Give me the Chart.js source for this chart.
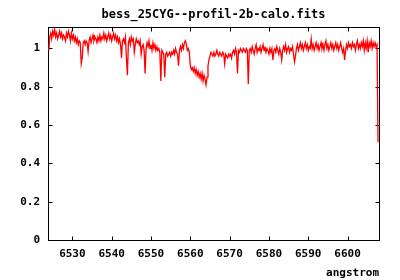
<!DOCTYPE html>
<html>
<head>
<meta charset="utf-8">
<script src="https://cdn.jsdelivr.net/npm/chart.js@4/dist/chart.umd.min.js"></script>
<style>
    body { margin: 0; background: #fff; }
    #wrap { width: 400px; height: 280px; }
</style>
</head>
<body>
<div id="wrap"><canvas id="spectrum" width="400" height="280"></canvas></div>
<script>
// wavelength grid (angstrom), 0.25 A per sample
const wavelengths = [
    6524.00, 6524.25, 6524.50, 6524.75, 6525.00, 6525.25, 6525.50, 6525.75,
    6526.00, 6526.25, 6526.50, 6526.75, 6527.00, 6527.25, 6527.50, 6527.75,
    6528.00, 6528.25, 6528.50, 6528.75, 6529.00, 6529.25, 6529.50, 6529.75,
    6530.00, 6530.25, 6530.50, 6530.75, 6531.00, 6531.25, 6531.50, 6531.75,
    6532.00, 6532.25, 6532.50, 6532.75, 6533.00, 6533.25, 6533.50, 6533.75,
    6534.00, 6534.25, 6534.50, 6534.75, 6535.00, 6535.25, 6535.50, 6535.75,
    6536.00, 6536.25, 6536.50, 6536.75, 6537.00, 6537.25, 6537.50, 6537.75,
    6538.00, 6538.25, 6538.50, 6538.75, 6539.00, 6539.25, 6539.50, 6539.75,
    6540.00, 6540.25, 6540.50, 6540.75, 6541.00, 6541.25, 6541.50, 6541.75,
    6542.00, 6542.25, 6542.50, 6542.75, 6543.00, 6543.25, 6543.50, 6543.75,
    6544.00, 6544.25, 6544.50, 6544.75, 6545.00, 6545.25, 6545.50, 6545.75,
    6546.00, 6546.25, 6546.50, 6546.75, 6547.00, 6547.25, 6547.50, 6547.75,
    6548.00, 6548.25, 6548.50, 6548.75, 6549.00, 6549.25, 6549.50, 6549.75,
    6550.00, 6550.25, 6550.50, 6550.75, 6551.00, 6551.25, 6551.50, 6551.75,
    6552.00, 6552.25, 6552.50, 6552.75, 6553.00, 6553.25, 6553.50, 6553.75,
    6554.00, 6554.25, 6554.50, 6554.75, 6555.00, 6555.25, 6555.50, 6555.75,
    6556.00, 6556.25, 6556.50, 6556.75, 6557.00, 6557.25, 6557.50, 6557.75,
    6558.00, 6558.25, 6558.50, 6558.75, 6559.00, 6559.25, 6559.50, 6559.75,
    6560.00, 6560.25, 6560.50, 6560.75, 6561.00, 6561.25, 6561.50, 6561.75,
    6562.00, 6562.25, 6562.50, 6562.75, 6563.00, 6563.25, 6563.50, 6563.75,
    6564.00, 6564.25, 6564.50, 6564.75, 6565.00, 6565.25, 6565.50, 6565.75,
    6566.00, 6566.25, 6566.50, 6566.75, 6567.00, 6567.25, 6567.50, 6567.75,
    6568.00, 6568.25, 6568.50, 6568.75, 6569.00, 6569.25, 6569.50, 6569.75,
    6570.00, 6570.25, 6570.50, 6570.75, 6571.00, 6571.25, 6571.50, 6571.75,
    6572.00, 6572.25, 6572.50, 6572.75, 6573.00, 6573.25, 6573.50, 6573.75,
    6574.00, 6574.25, 6574.50, 6574.75, 6575.00, 6575.25, 6575.50, 6575.75,
    6576.00, 6576.25, 6576.50, 6576.75, 6577.00, 6577.25, 6577.50, 6577.75,
    6578.00, 6578.25, 6578.50, 6578.75, 6579.00, 6579.25, 6579.50, 6579.75,
    6580.00, 6580.25, 6580.50, 6580.75, 6581.00, 6581.25, 6581.50, 6581.75,
    6582.00, 6582.25, 6582.50, 6582.75, 6583.00, 6583.25, 6583.50, 6583.75,
    6584.00, 6584.25, 6584.50, 6584.75, 6585.00, 6585.25, 6585.50, 6585.75,
    6586.00, 6586.25, 6586.50, 6586.75, 6587.00, 6587.25, 6587.50, 6587.75,
    6588.00, 6588.25, 6588.50, 6588.75, 6589.00, 6589.25, 6589.50, 6589.75,
    6590.00, 6590.25, 6590.50, 6590.75, 6591.00, 6591.25, 6591.50, 6591.75,
    6592.00, 6592.25, 6592.50, 6592.75, 6593.00, 6593.25, 6593.50, 6593.75,
    6594.00, 6594.25, 6594.50, 6594.75, 6595.00, 6595.25, 6595.50, 6595.75,
    6596.00, 6596.25, 6596.50, 6596.75, 6597.00, 6597.25, 6597.50, 6597.75,
    6598.00, 6598.25, 6598.50, 6598.75, 6599.00, 6599.25, 6599.50, 6599.75,
    6600.00, 6600.25, 6600.50, 6600.75, 6601.00, 6601.25, 6601.50, 6601.75,
    6602.00, 6602.25, 6602.50, 6602.75, 6603.00, 6603.25, 6603.50, 6603.75,
    6604.00, 6604.25, 6604.50, 6604.75, 6605.00, 6605.25, 6605.50, 6605.75,
    6606.00, 6606.25, 6606.50, 6606.75, 6607.00, 6607.25, 6607.50, 6607.75
];
// normalised flux, one row per angstrom
const flux = [
    0.99, 1.06, 1.08, 1.05,   1.09, 1.07, 1.10, 1.06,
    1.08, 1.05, 1.07, 1.09,   1.06, 1.08, 1.05, 1.07,
    1.06, 1.04, 1.08, 1.06,   1.09, 1.07, 1.04, 1.08,
    1.05, 1.07, 1.04, 1.06,   1.03, 1.05, 1.02, 1.04,
    1.03, 0.92, 0.95, 1.03,   1.04, 1.02, 1.04, 1.03,
    0.985, 1.04, 1.06, 1.03,  1.05, 1.07, 1.04, 1.06,
    1.05, 1.03, 1.06, 1.04,   1.07, 1.04, 1.06, 1.05,
    1.08, 1.05, 1.07, 1.04,   1.06, 1.08, 1.05, 1.07,
    1.04, 1.06, 1.08, 1.05,   1.07, 1.04, 1.06, 1.03,
    1.05, 1.02, 0.95, 1.04,   1.05, 1.03, 1.06, 0.95,
    0.86, 1.03, 1.05, 1.02,   1.06, 1.04, 1.05, 0.98,
    1.02, 1.05, 1.03, 1.04,   1.02, 1.04, 0.97, 1.01,
    1.02, 0.99, 0.87, 1.00,   1.03, 1.01, 1.04, 1.00,
    1.02, 0.99, 1.03, 1.00,   1.02, 0.99, 1.01, 0.99,
    1.00, 0.98, 0.83, 0.99,   0.98, 0.97, 0.85, 0.97,
    0.98, 0.96, 0.97, 0.98,   0.96, 0.98, 0.97, 0.99,
    0.97, 1.00, 0.98, 0.97,   0.91, 0.99, 1.01, 0.99,
    1.02, 1.00, 1.03, 1.04,   1.02, 0.99, 1.00, 0.98,
    0.91, 0.89, 0.90, 0.88,   0.90, 0.87, 0.89, 0.86,
    0.88, 0.85, 0.87, 0.84,   0.87, 0.83, 0.86, 0.84,
    0.81, 0.85, 0.91, 0.94,   0.96, 0.98, 0.97, 0.96,
    0.98, 0.96, 0.97, 0.99,   0.97, 0.96, 0.98, 0.97,
    0.96, 0.98, 0.97, 0.92,   0.97, 0.96, 0.95, 0.97,
    0.96, 0.97, 0.95, 0.98,   0.99, 0.97, 1.00, 0.98,
    0.87, 0.99, 0.98, 1.00,   0.99, 0.98, 1.00, 0.99,
    0.98, 1.00, 0.99, 0.815,  0.99, 1.00, 0.98, 1.01,
    0.99, 0.97, 1.00, 1.02,   0.98, 1.00, 0.99, 1.01,
    0.98, 1.00, 1.02, 0.99,   1.01, 0.98, 1.00, 0.99,
    0.97, 1.00, 0.98, 1.00,   0.94, 0.99, 1.00, 0.98,
    1.01, 0.99, 0.97, 1.00,   0.98, 0.94, 0.99, 1.01,
    0.99, 1.02, 0.98, 1.00,   1.01, 0.98, 1.00, 0.99,
    1.01, 0.97, 0.93, 0.96,   1.00, 1.02, 0.99, 1.01,
    1.03, 1.00, 1.02, 0.99,   1.01, 1.03, 1.00, 1.02,
    0.99, 1.01, 1.00, 1.05,   1.00, 1.02, 0.99, 1.01,
    1.03, 1.00, 1.02, 0.99,   1.01, 1.03, 1.00, 1.02,
    0.99, 1.02, 1.04, 1.00,   1.02, 0.99, 1.01, 1.03,
    1.00, 1.02, 0.99, 1.01,   1.03, 1.00, 1.02, 0.99,
    1.01, 1.03, 1.00, 0.98,   1.00, 0.94, 0.99, 1.02,
    1.00, 1.03, 1.01, 1.02,   1.00, 1.03, 1.01, 1.02,
    0.99, 1.02, 1.04, 1.00,   1.02, 1.00, 1.03, 1.01,
    1.04, 0.99, 1.03, 1.00,   1.04, 0.98, 1.03, 1.01,
    1.04, 1.00, 1.03, 1.01,   1.03, 1.01, 1.02, 0.51
];
const xTicks = [6530, 6540, 6550, 6560, 6570, 6580, 6590, 6600];
const yTicks = [0, 0.2, 0.4, 0.6, 0.8, 1];

const font = { family: "'DejaVu Sans Mono', monospace", size: 11, weight: "bold" };

// gnuplot style box with inward ticks on all four sides
const framePlugin = {
    id: "frame",
    afterLayout(chart) {
        // centre the title over the plot box, not the whole canvas
        if (chart.titleBlock) {
            chart.titleBlock.left = chart.chartArea.left;
            chart.titleBlock.right = chart.chartArea.right;
        }
    },
    beforeDatasetsDraw(chart) {
        const { ctx, chartArea: a, scales } = chart;
        const L = Math.round(a.left) + 0.5, R = Math.round(a.right) + 0.5;
        const T = Math.round(a.top) + 0.5, B = Math.round(a.bottom) + 0.5;
        ctx.save();
        ctx.strokeStyle = "#000";
        ctx.lineWidth = 1;
        ctx.strokeRect(L, T, R - L, B - T);
        ctx.beginPath();
        xTicks.forEach(v => {
            const px = Math.round(scales.x.getPixelForValue(v)) + 0.5;
            ctx.moveTo(px, B); ctx.lineTo(px, B - 4);
            ctx.moveTo(px, T); ctx.lineTo(px, T + 4);
        });
        yTicks.forEach(v => {
            const py = Math.round(scales.y.getPixelForValue(v)) + 0.5;
            ctx.moveTo(L, py); ctx.lineTo(L + 4, py);
            ctx.moveTo(R, py); ctx.lineTo(R - 4, py);
        });
        ctx.stroke();
        ctx.restore();
    }
};

const points = wavelengths.map((w, i) => ({ x: w, y: flux[i] }));

new Chart(document.getElementById("spectrum").getContext("2d"), {
    type: "line",
    data: {
        datasets: [{
            label: "bess_25CYG--profil-2b-calo.fits",
            data: points,
            borderColor: "#ff0000",
            borderWidth: 1.3,
            pointRadius: 0,
            tension: 0,
            fill: false
        }]
    },
    options: {
        responsive: false,
        animation: false,
        layout: { padding: { left: 0, right: 21, top: 0, bottom: 0 } },
        plugins: {
            legend: { display: false },
            tooltip: { enabled: false },
            title: {
                display: true,
                text: "bess_25CYG--profil-2b-calo.fits",
                color: "#000",
                font: { family: font.family, size: 12, weight: "bold", lineHeight: 1.2 },
                padding: { top: 8, bottom: 5 }
            }
        },
        scales: {
            x: {
                type: "linear",
                min: 6523.8,
                max: 6608,
                grid: { display: false, drawTicks: false },
                border: { display: false },
                afterBuildTicks: s => { s.ticks = xTicks.map(v => ({ value: v })); },
                afterFit: s => { s.height = 40; },
                ticks: {
                    color: "#000",
                    font: font,
                    padding: 8,
                    maxRotation: 0,
                    callback: v => String(v)
                },
                title: {
                    display: true,
                    text: "angstrom",
                    align: "end",
                    color: "#000",
                    font: font,
                    padding: { top: 2, bottom: 0 }
                }
            },
            y: {
                min: 0,
                max: 1.11,
                grid: { display: false, drawTicks: false },
                border: { display: false },
                afterBuildTicks: s => { s.ticks = yTicks.map(v => ({ value: v })); },
                afterFit: s => { s.width = 48; },
                ticks: {
                    color: "#000",
                    font: font,
                    padding: 8,
                    callback: v => String(+v.toFixed(1))
                }
            }
        }
    },
    plugins: [framePlugin]
});
</script>
</body>
</html>
